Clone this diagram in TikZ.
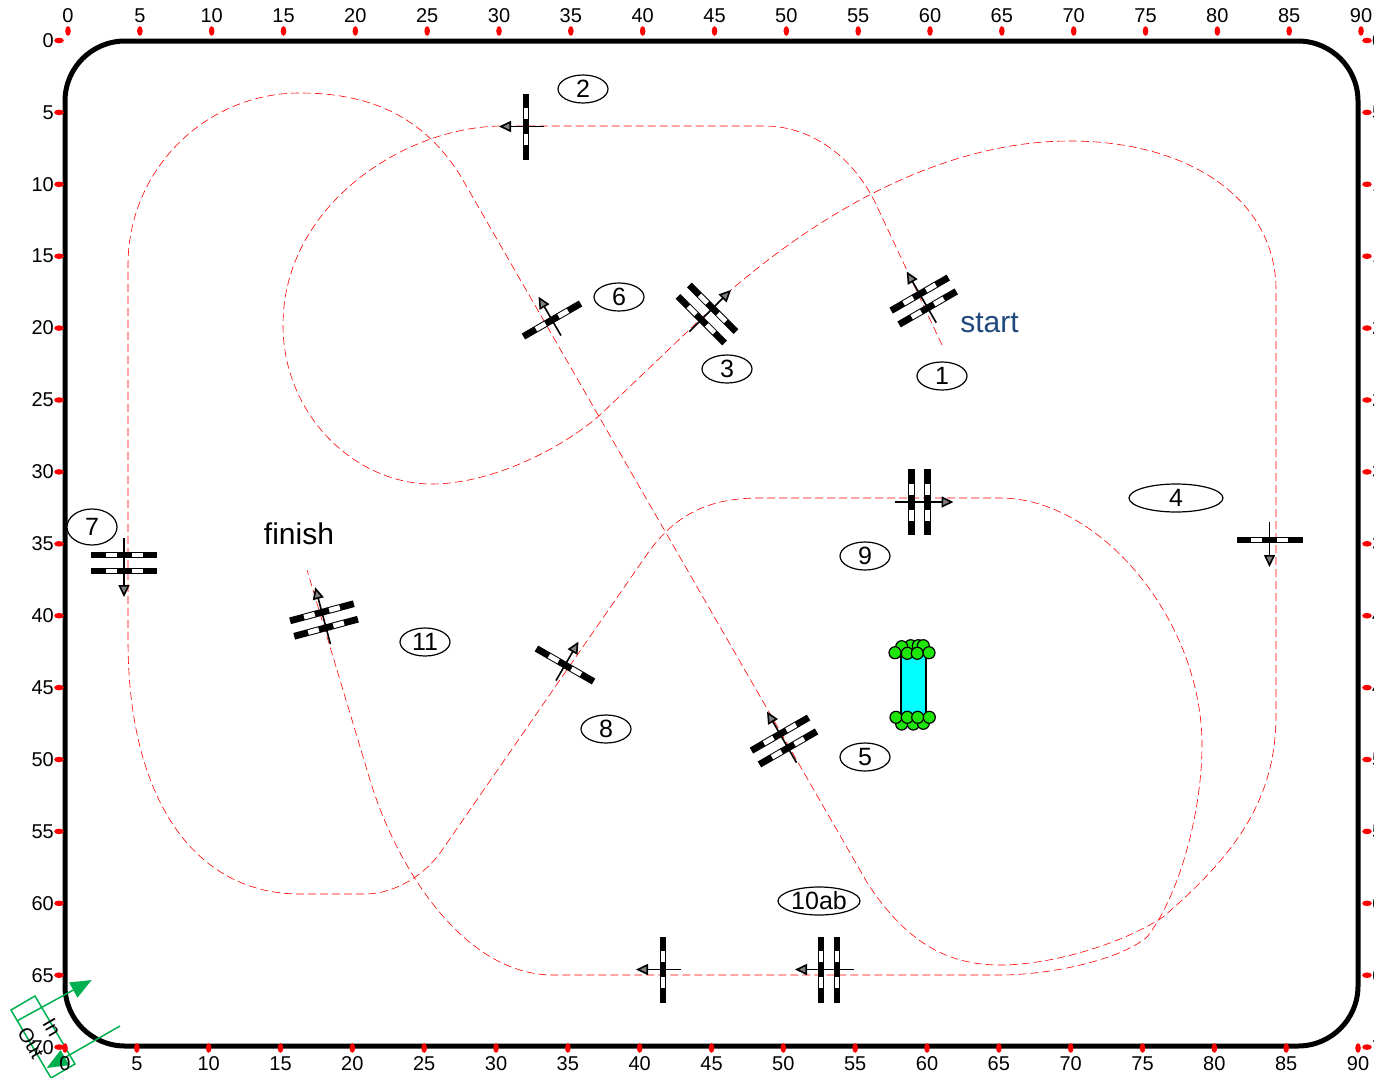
\documentclass[tikz,border=0pt]{standalone}
\usepackage{fontspec}
\setmainfont{Liberation Sans}
\usepackage{xcolor}
\usetikzlibrary{arrows.meta,shapes.geometric}
\definecolor{startblue}{RGB}{31,73,125}
\definecolor{gategreen}{RGB}{0,176,80}
\definecolor{ballgreen}{RGB}{30,230,10}
\definecolor{robotcyan}{RGB}{0,255,255}
\newcommand{\gatebar}[1]{
  \fill[black] (#1-3.4,-33) rectangle (#1+3.4,33);
  \fill[white] (#1-2.4,-18.5) rectangle (#1+2.4,-7.5);
  \fill[white] (#1-2.4,7.5) rectangle (#1+2.4,18.5);
}
\tikzset{
  ticklab/.style={inner sep=0pt,font=\fontsize{20}{24}\selectfont},
  tag/.style={ellipse,draw=black,line width=1.2pt,fill=white,inner sep=0pt,
              minimum width=50pt,minimum height=28pt,font=\fontsize{25}{30}\selectfont},
  course/.style={draw=red,line width=.6pt,dash pattern=on 8pt off 4pt},
  gatearrow/.style={-{Triangle[length=12pt,width=11pt,fill=black!50]},line width=1.6pt},
  ball/.style={circle,draw=black,line width=1.2pt,fill=ballgreen,inner sep=0pt,minimum size=12pt},
  singlegate/.pic={
    \gatebar{0}
    \draw[gatearrow] (-18,0) -- (27,0);
  },
  doublegate/.pic={
    \gatebar{-8}
    \gatebar{8}
    \draw[gatearrow] (-25,0) -- (34,0);
  },
}
\begin{document}
\begin{tikzpicture}[x=1pt,y=-1pt]
  \clip (0,0) rectangle (1374,1077);
  \fill[white] (0,0) rectangle (1374,1077);
  % field
  \draw[line width=5pt,rounded corners=60pt] (65,41) rectangle (1358,1046);
  % in and out
  \draw[gategreen,line width=1.5pt] (11,1010) -- (35,996) -- (75,1064) -- (51,1078) -- cycle;
  \draw[gategreen,line width=1.5pt,-{Triangle[length=21pt,width=17pt]}] (17.3,1020.7) -- (91.7,980);
  \draw[gategreen,line width=1.5pt,-{Triangle[length=21pt,width=17pt]}] (120,1026) -- (46.7,1068);
  \node[ticklab,rotate=-60] (gatein) at (52,1027) {In};
  \node[ticklab,rotate=-60] (gateout) at (31,1043) {Out};
  % scales
  \foreach \v in {0,5,...,90}{
    \pgfmathsetmacro{\tx}{68+\v*14.367}
    \pgfmathsetmacro{\bx}{65+\v*14.367}
    \fill[red] (\tx,31) ellipse (2.8 and 4.8);
    \fill[red] (\bx,1048) ellipse (2.8 and 4.8);
    \node[ticklab] at (\tx,15.5) {\v};
    \node[ticklab] at (\bx,1063.5) {\v};
  }
  \foreach \v in {0,5,...,70}{
    \pgfmathsetmacro{\ly}{40.5+\v*14.38}
    \fill[red] (59,\ly) ellipse (4.8 and 2.8);
    \fill[red] (1367,\ly) ellipse (4.8 and 2.8);
    \node[ticklab,anchor=east] at (54,\ly) {\v};
    \node[ticklab,anchor=west] at (1372,\ly) {\v};
  }
  % route
  \draw[course] (942,345) -- (874,200)
    .. controls (845,145) and (800,126) .. (765,126) -- (503,126)
    .. controls (405,126) and (283,205) .. (283,325)
    .. controls (283,415) and (355,484) .. (432,484)
    .. controls (490,484) and (560,450) .. (600,415) -- (731,290)
    .. controls (830,205) and (950,141) .. (1070,141)
    .. controls (1190,141) and (1276,200) .. (1276,290) -- (1276,715)
    .. controls (1276,800) and (1235,855) .. (1163,917)
    .. controls (1120,945) and (1050,965) .. (1000,965)
    .. controls (945,965) and (905,940) .. (868,884) -- (460,175)
    .. controls (425,120) and (375,93) .. (300,93)
    .. controls (205,93) and (128,170) .. (128,265) -- (128,640)
    .. controls (128,800) and (195,894) .. (300,894) -- (365,894)
    .. controls (390,894) and (420,880) .. (440,853) -- (650,550)
    .. controls (680,510) and (715,498) .. (760,498) -- (1000,498)
    .. controls (1100,498) and (1202,620) .. (1202,745)
    .. controls (1202,810) and (1180,895) .. (1147,937)
    .. controls (1120,960) and (1050,975) .. (1000,975) -- (553,975)
    .. controls (463,975) and (396,866) .. (370,780) -- (307,570);
  % gates
  \foreach \n/\x/\y/\a in {g2/526/126.5/180,g6/552/320/120,g8/565/665/60,g4/1269.5/540/-90,g10a/663/969.5/180}{
    \pic[rotate=\a] (\n) at (\x,\y) {singlegate};
  }
  \foreach \n/\x/\y/\a in {g1/923.7/301/120,g3/707/314/45,g5/784/741/120,g9/919.5/502/0,
                           g7/124/563/-90,g11/324/620/105,g10b/829/969.5/180}{
    \pic[rotate=\a] (\n) at (\x,\y) {doublegate};
  }
  % tags
  \node[tag] (t1) at (942,376) {1};
  \node[tag] (t2) at (583,89) {2};
  \node[tag] (t3) at (727,369) {3};
  \node[tag,minimum width=94pt] (t4) at (1176,498) {4};
  \node[tag] (t5) at (865,757) {5};
  \node[tag] (t6) at (619,297) {6};
  \node[tag,minimum height=36pt] (t7) at (92,527) {7};
  \node[tag] (t8) at (606,729) {8};
  \node[tag] (t9) at (865,556) {9};
  \node[tag,minimum width=82pt] (t10) at (819,901) {10ab};
  \node[tag] (t11) at (425,642) {11};
  \node[text=startblue,inner sep=0pt,font=\fontsize{30}{36}\selectfont] (start) at (989.5,323) {start};
  \node[inner sep=0pt,font=\fontsize{30}{36}\selectfont] (finish) at (299,534) {finish};
  % robot
  \draw[fill=robotcyan,line width=1.2pt] (901,648) rectangle (926,718);
  \foreach \x/\y in {910.7/645.7,918.3/645.7,923.3/645.7,901.7/646.7,895/652.7,907.3/653.3,917.3/653.3,929/652.7,
                     901.7/724,913.3/724,923.3/723.3,896/717.3,907.3/717.3,917.7/717.3,929.3/717.3}{
    \node[ball] at (\x,\y) {};
  }
\end{tikzpicture}
\end{document}
